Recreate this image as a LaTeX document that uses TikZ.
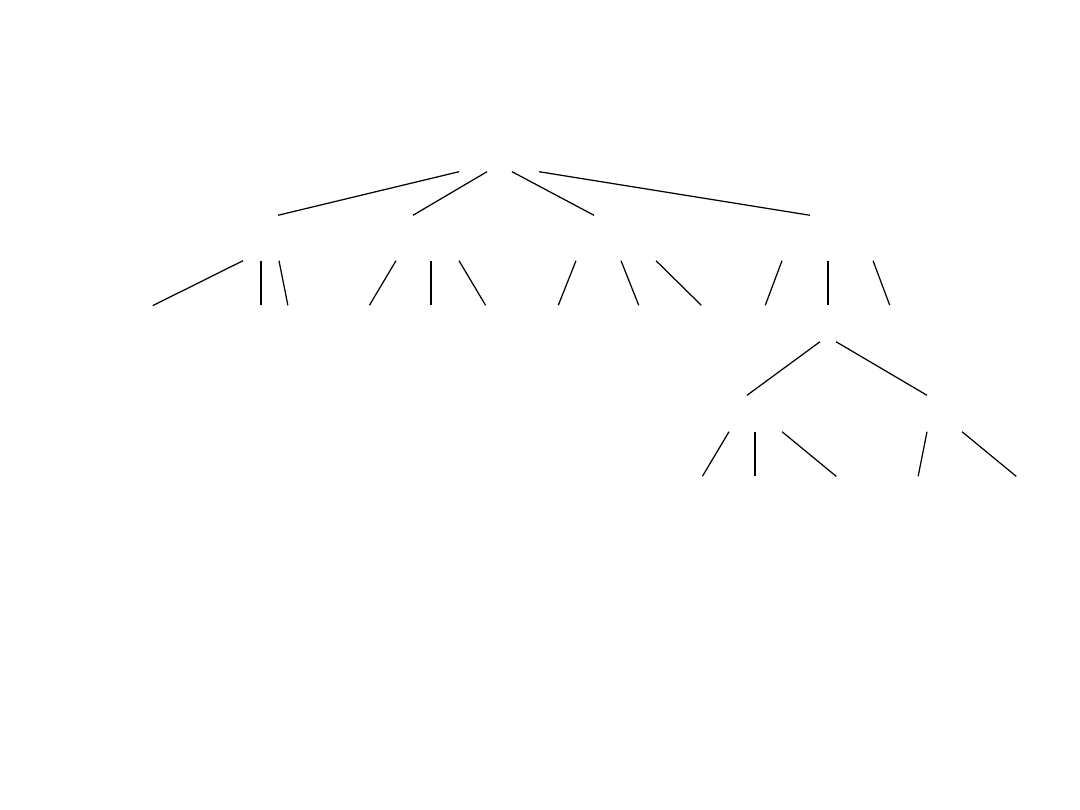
\documentclass[tikz,border=0pt]{standalone}
\usetikzlibrary{positioning}

\begin{document}
\begin{tikzpicture}[x=0.01cm, y=-0.01cm,
		tnode/.style={inner sep=0pt, minimum width=0.4cm, minimum height=0.44cm},
		snode/.style={inner sep=0pt, minimum width=0.4cm, minimum height=0.35cm},
		leaf/.style={inner sep=0pt, minimum size=0pt},
		branch/.style={line width=0.35pt}]
		      \useasboundingbox (0,0) rectangle (1080,810);
		      \node[inner sep=0pt, minimum width=1cm, minimum height=0.32cm] (root) at (499,155) {};
		      \node[tnode] (A) at (261,238) {};
		      \node[tnode] (B) at (431,238) {};
		      \node[tnode] (C) at (616,238) {};
		      \node[tnode] (D) at (828,238) {};
		      \node[leaf] (a1) at (152,306) {};
		      \node[leaf] (a2) at (261,306) {};
		      \node[leaf] (a3) at (288,306) {};
		      \node[leaf] (b1) at (369,306) {};
		      \node[leaf] (b2) at (431,306) {};
		      \node[leaf] (b3) at (486,306) {};
		      \node[leaf] (c1) at (558,306) {};
		      \node[leaf] (c2) at (639,306) {};
		      \node[leaf] (c3) at (702,306) {};
		      \node[leaf] (d1) at (765,306) {};
		      \node[snode] (d2) at (828,323.5) {};
		      \node[leaf] (d3) at (890,306) {};
		      \node[snode] (E) at (755,413.5) {};
		      \node[snode] (F) at (945,413.5) {};
		      \node[leaf] (e1) at (702,477) {};
		      \node[leaf] (e2) at (755,477) {};
		      \node[leaf] (e3) at (837,477) {};
		      \node[leaf] (f1) at (918,477) {};
		      \node[leaf] (f2) at (1017,477) {};

		      \draw[branch] ([xshift=-0.40cm]root.south) -- ([xshift=0.17cm]A.north);
		      \draw[branch] ([xshift=-0.12cm]root.south) -- ([xshift=-0.18cm]B.north);
		      \draw[branch] ([xshift=0.13cm]root.south) -- ([xshift=-0.22cm]C.north);
		      \draw[branch] ([xshift=0.40cm]root.south) -- ([xshift=-0.18cm]D.north);

		      \draw[branch] ([xshift=-0.18cm]A.south) -- (a1);
		      \draw[branch] (A.south) -- (a2);
		      \draw[branch] ([xshift=0.18cm]A.south) -- (a3);
		      \draw[branch] ([xshift=-0.35cm]B.south) -- (b1);
		      \draw[branch] (B.south) -- (b2);
		      \draw[branch] ([xshift=0.28cm]B.south) -- (b3);
		      \draw[branch] ([xshift=-0.40cm]C.south) -- (c1);
		      \draw[branch] ([xshift=0.05cm]C.south) -- (c2);
		      \draw[branch] ([xshift=0.40cm]C.south) -- (c3);
		      \draw[branch] ([xshift=-0.46cm]D.south) -- (d1);
		      \draw[branch] (D.south) -- (d2.north);
		      \draw[branch] ([xshift=0.45cm]D.south) -- (d3);

		      \draw[branch] ([xshift=-0.08cm]d2.south) -- ([xshift=-0.08cm]E.north);
		      \draw[branch] ([xshift=0.08cm]d2.south) -- ([xshift=-0.18cm]F.north);

		      \draw[branch] ([xshift=-0.26cm]E.south) -- (e1);
		      \draw[branch] (E.south) -- (e2);
		      \draw[branch] ([xshift=0.27cm]E.south) -- (e3);
		      \draw[branch] ([xshift=-0.18cm]F.south) -- (f1);
		      \draw[branch] ([xshift=0.17cm]F.south) -- (f2);

	      \end{tikzpicture}
\end{document}
